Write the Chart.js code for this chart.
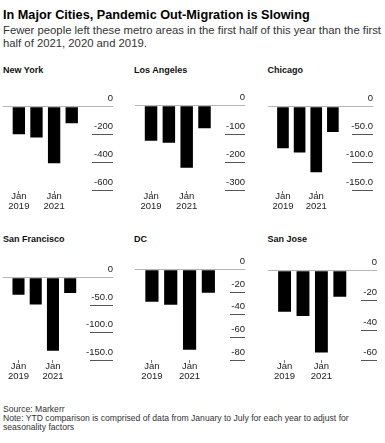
<!DOCTYPE html>
<html>
<head>
<meta charset="utf-8">
<script src="https://cdn.jsdelivr.net/npm/chart.js@4.4.0/dist/chart.umd.min.js"></script>
<style>
  html, body { margin: 0; padding: 0; background: #fff; }
  body { width: 385px; height: 443px; position: relative; overflow: hidden; font-family: "Liberation Sans", Arial, Helvetica, sans-serif; }
  .abs { position: absolute; white-space: nowrap; }
  #title { left: 3px; top: 7px; font-size: 12.7px; line-height: 16px; font-weight: bold; color: #000; }
  #subtitle { left: 3px; top: 24.4px; font-size: 11.3px; line-height: 12.6px; color: #333; }
  .ptitle { font-size: 9px; line-height: 11px; font-weight: bold; color: #111; }
  #footer { left: 3px; top: 404.5px; font-size: 8.6px; line-height: 9px; color: #333; }
  canvas { position: absolute; }
</style>
</head>
<body>
<div id="title" class="abs">In Major Cities, Pandemic Out-Migration is Slowing</div>
<div id="subtitle" class="abs">Fewer people left these metro areas in the first half of this year than the first<br>half of 2021, 2020 and 2019.</div>
<div id="footer" class="abs">Source: Markerr<br>Note: YTD comparison is comprised of data from January to July for each year to adjust for<br>seasonality factors</div>
<script>
// ---- data ----
const years = [2019, 2020, 2021, 2022];
const cities = ['New York', 'Los Angeles', 'Chicago', 'San Francisco', 'DC', 'San Jose'];

const newYork      = [-196, -220, -404, -118];
const losAngeles   = [-124, -131, -219, -80];
const chicago      = [-74, -82, -117, -45];
const sanFrancisco = [-31, -49, -133, -28];
const dc           = [-28.5, -31, -71, -20.5];
const sanJose      = [-27.5, -30.5, -55, -17.5];

const xTickYears  = [2019, 2021];
const xTickLabels = [['Jan', '2019'], ['Jan', '2021']];

const nyTicks  = [0, -200, -400, -600];   const nyTickLabels  = ['0', '-200', '-400', '-600'];
const laTicks  = [0, -100, -200, -300];   const laTickLabels  = ['0', '-100', '-200', '-300'];
const chiTicks = [0, -50, -100, -150];    const chiTickLabels = ['0', '-50.0', '-100.0', '-150.0'];
const sfTicks  = [0, -50, -100, -150];    const sfTickLabels  = ['0', '-50.0', '-100.0', '-150.0'];
const dcTicks  = [0, -20, -40, -60, -80]; const dcTickLabels  = ['0', '-20', '-40', '-60', '-80'];
const sjTicks  = [0, -20, -40, -60];      const sjTickLabels  = ['0', '-20', '-40', '-60'];

const seriesList = [newYork, losAngeles, chicago, sanFrancisco, dc, sanJose];
const tickList = [nyTicks, laTicks, chiTicks, sfTicks, dcTicks, sjTicks];
const tickLabelList = [nyTickLabels, laTickLabels, chiTickLabels, sfTickLabels, dcTickLabels, sjTickLabels];

// ---- layout (page pixels) ----
const rows = [
  { titleTop: 64.5, canvasTop: 80, zeroY: 99, bottomY: 190.7 },
  { titleTop: 233.5, canvasTop: 249, zeroY: 268.3, bottomY: 360 }
];
const panels = [
  { row: 0, titleX: 3,   left: 3,     axisEnd: 113,   tl: 21 },
  { row: 0, titleX: 134, left: 135,   axisEnd: 245,   tl: 20 },
  { row: 0, titleX: 267.5, left: 268, axisEnd: 373,   tl: 21 },
  { row: 1, titleX: 3,   left: 3,     axisEnd: 113,   tl: 23 },
  { row: 1, titleX: 134, left: 135,   axisEnd: 245,   tl: 15 },
  { row: 1, titleX: 267.5, left: 267.7, axisEnd: 376.7, tl: 16 }
];
const CANVAS_H = 145;
const FONT = '"Liberation Sans", Arial, Helvetica, sans-serif';

panels.forEach((p, i) => {
  const r = rows[p.row];
  const t = document.createElement('div');
  t.className = 'abs ptitle';
  t.style.left = p.titleX + 'px';
  t.style.top = r.titleTop + 'px';
  t.textContent = cities[i];
  document.body.appendChild(t);

  const cLeft = p.left - 3;
  const cWidth = p.axisEnd - cLeft + 4;
  const cv = document.createElement('canvas');
  cv.style.left = cLeft + 'px';
  cv.style.top = r.canvasTop + 'px';
  cv.style.width = cWidth + 'px';
  cv.style.height = CANVAS_H + 'px';
  cv.width = cWidth; cv.height = CANVAS_H;
  document.body.appendChild(cv);

  const padTop = r.zeroY - r.canvasTop;
  const xAxisH = CANVAS_H - (r.bottomY - r.canvasTop);
  const tv = tickList[i];
  const tlabels = tickLabelList[i];

  new Chart(cv, {
    type: 'bar',
    data: {
      datasets: [{
        data: years.map((y, k) => ({ x: y, y: seriesList[i][k] })),
        backgroundColor: '#000',
        borderWidth: 0,
        barPercentage: 0.7,
        categoryPercentage: 1.0
      }]
    },
    options: {
      responsive: false,
      animation: false,
      devicePixelRatio: 1,
      layout: { padding: { top: padTop, left: 3, right: 4, bottom: 0 } },
      plugins: { legend: { display: false }, tooltip: { enabled: false } },
      scales: {
        x: {
          type: 'linear',
          offset: false,
          min: 2018.1,
          max: 2023.15,
          afterBuildTicks: (s) => { s.ticks = xTickYears.map(v => ({ value: v })); },
          afterFit: (s) => { s.height = xAxisH; },
          border: { display: false },
          grid: { offset: false, drawOnChartArea: false, drawTicks: true, tickLength: 3, tickColor: '#777', lineWidth: 1 },
          ticks: {
            autoSkip: false, maxRotation: 0, minRotation: 0, padding: -2,
            color: '#222', font: { family: FONT, size: 9.5, lineHeight: 1.05 },
            callback: (v, idx) => xTickLabels[idx]
          }
        },
        y: {
          position: 'right',
          min: tv[tv.length - 1],
          max: 0,
          afterBuildTicks: (s) => { s.ticks = tv.map(v => ({ value: v })); },
          afterFit: (s) => { s.width = p.tl; },
          border: { display: false },
          grid: {
            drawOnChartArea: true, drawTicks: true, tickLength: p.tl, lineWidth: 1,
            color: (c) => (c.tick && c.tick.value === 0) ? '#b5b5b5' : 'rgba(0,0,0,0)',
            tickColor: (c) => (c.tick && c.tick.value === 0) ? '#b5b5b5' : '#555'
          },
          ticks: {
            mirror: true, padding: p.tl, labelOffset: -8,
            color: '#222', font: { family: FONT, size: 9.5 },
            callback: (v, idx) => tlabels[idx]
          }
        }
      }
    }
  });
});
</script>
</body>
</html>
